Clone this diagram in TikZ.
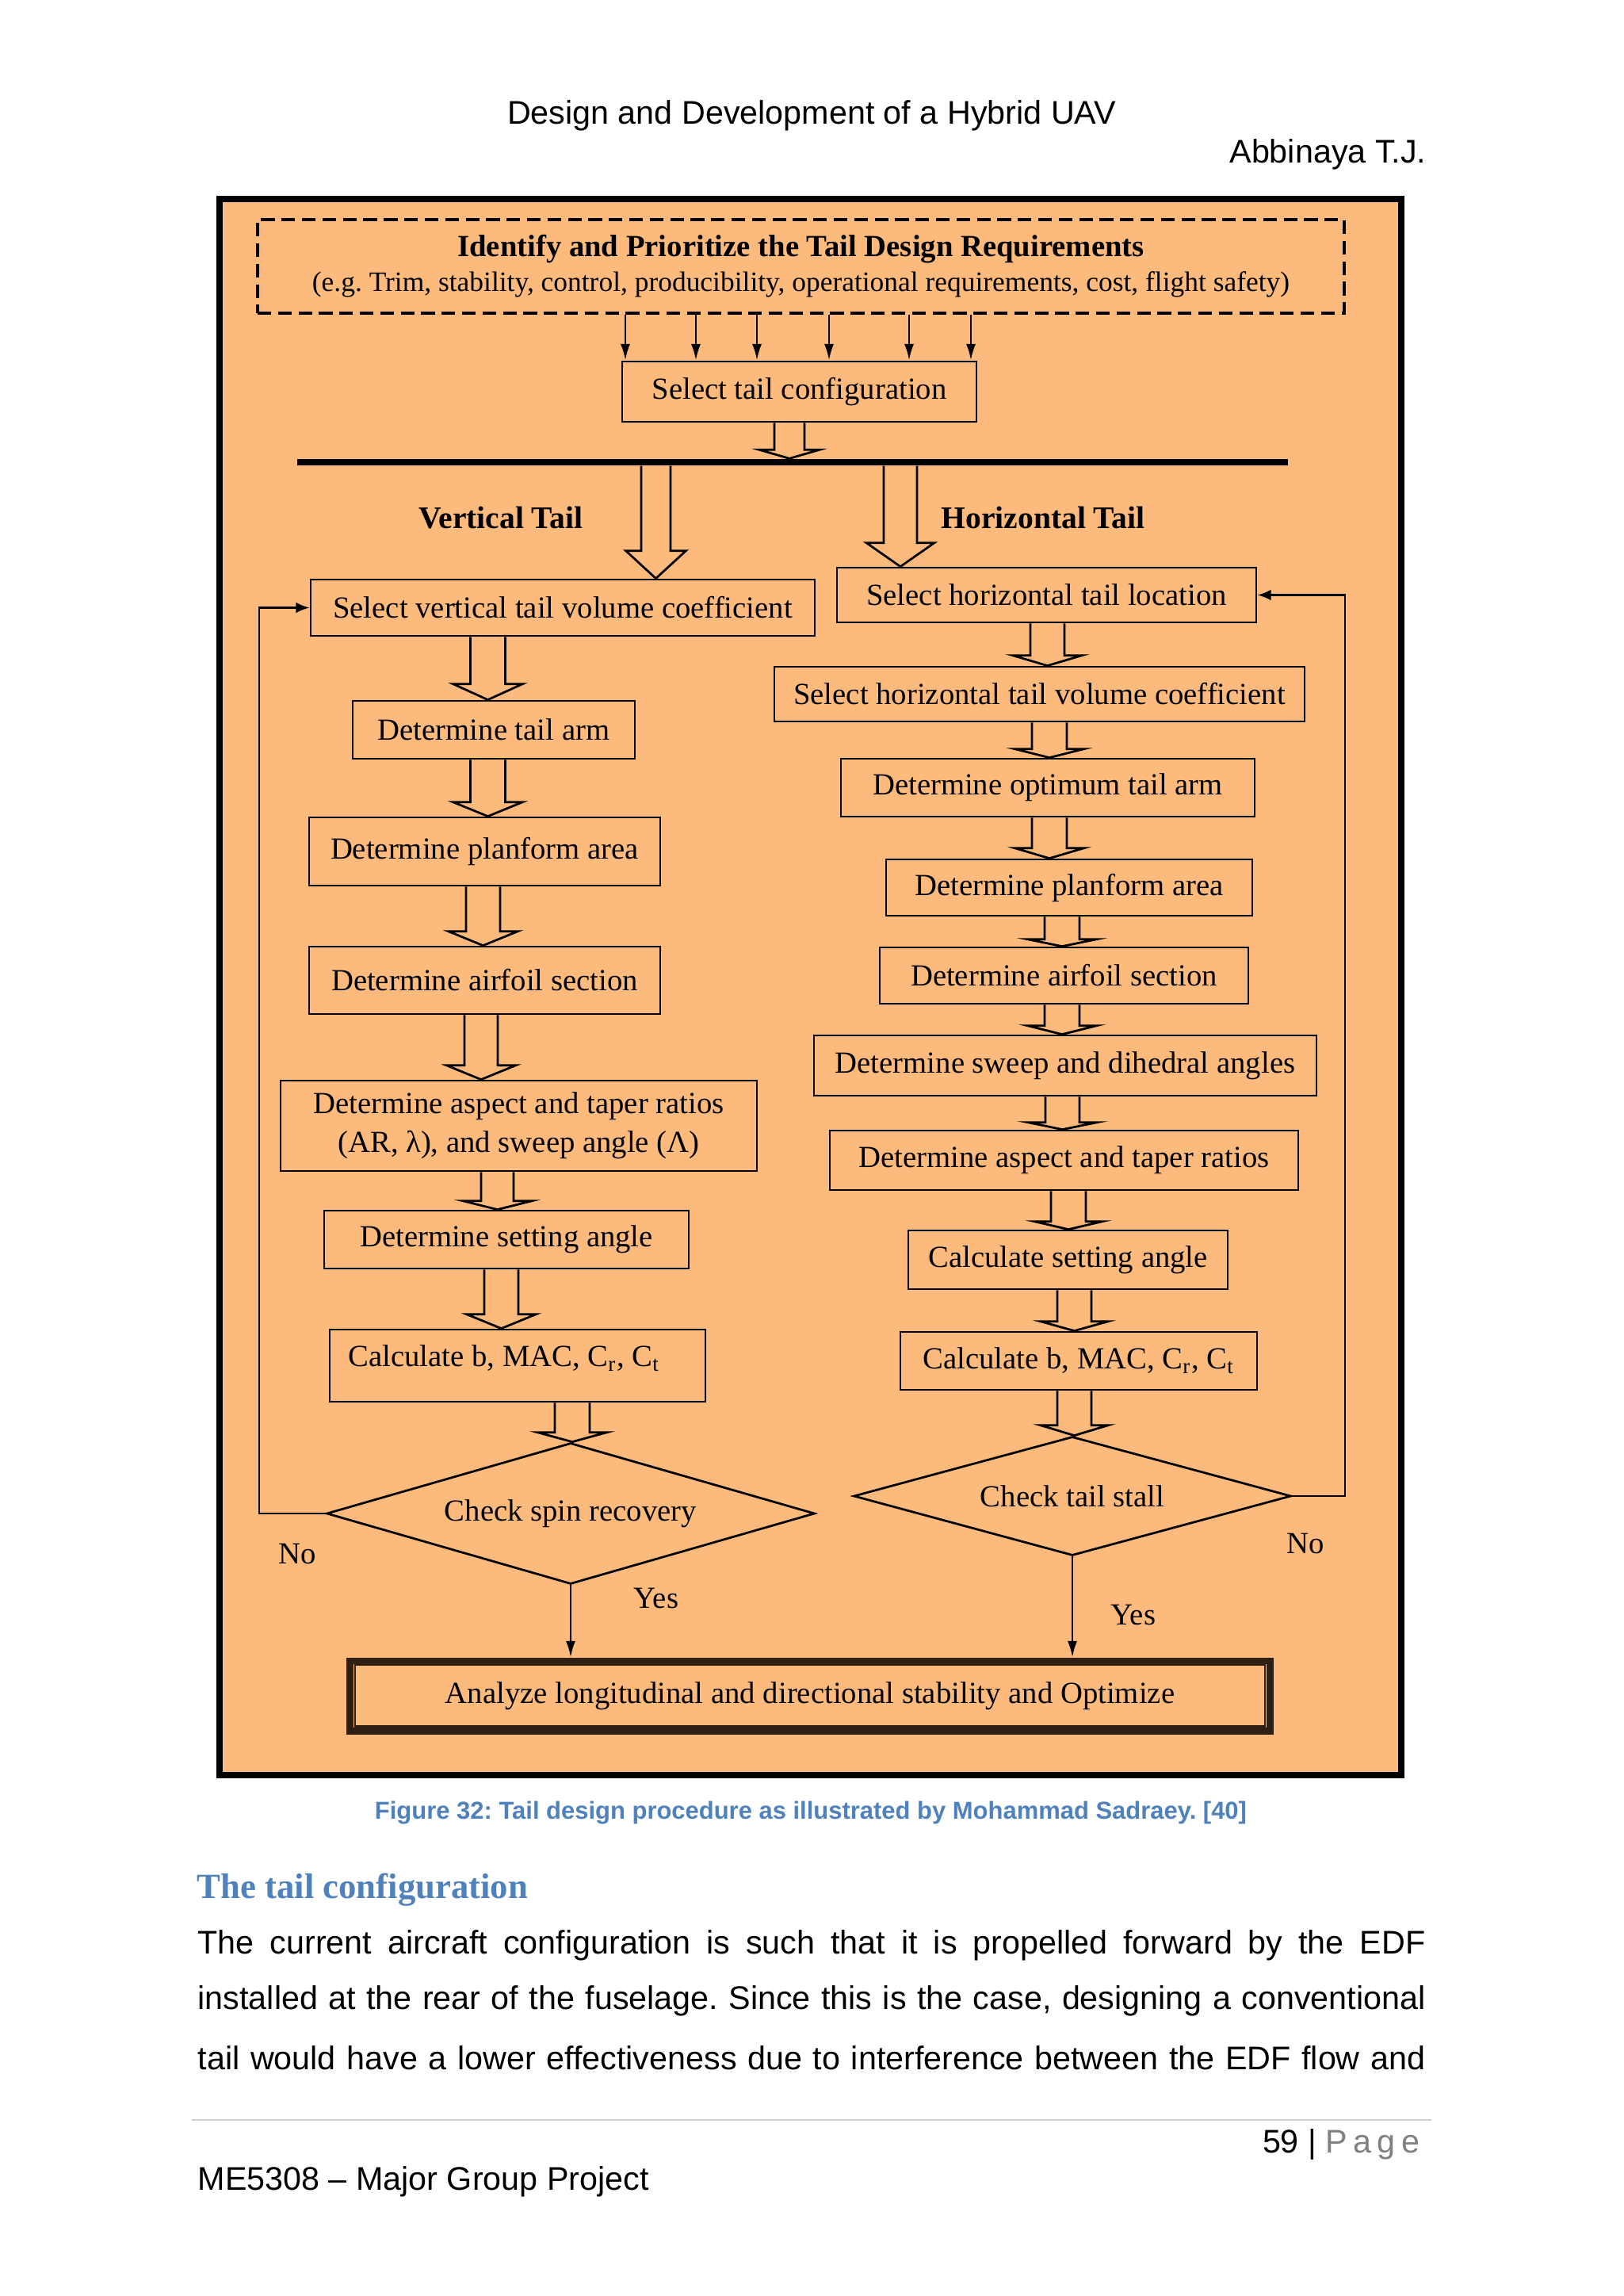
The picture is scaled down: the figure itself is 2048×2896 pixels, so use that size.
\documentclass[tikz,border=0pt]{standalone}
\usepackage{fontspec}
\setmainfont{Liberation Serif}
\newfontfamily\arial{Liberation Sans}
\newfontfamily\arialsp[LetterSpace=18]{Liberation Sans}
\usetikzlibrary{shapes.geometric,arrows.meta,calc}
\definecolor{bgorange}{HTML}{FCBB7C}
\definecolor{capblue}{HTML}{4F81BD}
\definecolor{darkband}{HTML}{2E1F12}
\definecolor{rulegray}{HTML}{D0D0D0}
\definecolor{pagegray}{HTML}{808080}
\frenchspacing
% hollow block arrow: #1 x (px), #2 from node, #3 to node, #4 shaft half width, #5 head half width, #6 head length
\newcommand\barrow[6]{%
  \draw[blk] let \p0=(#1,0), \p1=(#2.south), \p2=(#3.north), \p3=(#4,0), \p4=(#5,0), \p5=(#6,0) in
    (\x0-\x3,\y1) -- (\x0-\x3,\y2+\x5) -- (\x0-\x4,\y2+\x5) -- (\x0,\y2) -- (\x0+\x4,\y2+\x5) -- (\x0+\x3,\y2+\x5) -- (\x0+\x3,\y1);}
\begin{document}
\begin{tikzpicture}[x=0.29066pt,y=-0.29066pt,
  wh/.style 2 args={minimum width={#1*0.29066pt},minimum height={#2*0.29066pt}},
  box/.style={draw,line width=0.8pt,inner sep=0pt,align=center,font=\fontsize{11.25}{13}\selectfont},
  lbl/.style={inner sep=0pt,font=\fontsize{11.25}{13}\selectfont},
  blk/.style={draw,line width=0.8pt},
  reqarrow/.style={line width=0.8pt,-{Latex[length=6pt,width=3.5pt]}},
  fbarrow/.style={line width=0.8pt,-{Latex[length=5pt,width=4pt]}},
  dia/.style={draw,line width=0.8pt,shape=diamond,inner sep=0pt,font=\fontsize{11.25}{13}\selectfont},
  body/.style={inner sep=0pt,anchor=west,font=\arial\fontsize{12}{14}\selectfont}
]
\fill[white] (0,0) rectangle (2048,2896);
\useasboundingbox (0,0) rectangle (2048,2896);

% page header
\node[inner sep=0pt,font=\arial\fontsize{12}{14}\selectfont] (hdr) at (1024,146) {Design and Development of a Hybrid UAV};
\node[inner sep=0pt,anchor=east,font=\arial\fontsize{12}{14}\selectfont] (auth) at (1800,195) {Abbinaya T.J.};

% orange frame
\draw[line width=2.4pt,fill=bgorange] (277,251) rectangle (1768,2239);

% requirements
\node[draw,dash pattern=on 5pt off 2.5pt,line width=0.9pt,wh={1371}{118},inner sep=0pt,align=center,font=\fontsize{11}{12.8}\selectfont] (req) at (1010.5,336)
  {{\fontsize{11.25}{12.8}\selectfont\bfseries Identify and Prioritize the Tail Design Requirements}\\
   {\fontsize{10.3}{12.8}\selectfont (e.g. Trim, stability, control, producibility, operational requirements, cost, flight safety)}};

\node[box,wh={447}{76}] (cfg) at (1008.5,494) {Select tail configuration};
\foreach \xx in {789,878,955,1046,1147,1225}
  \draw[reqarrow] let \p0=(\xx,0), \p1=(req.south), \p2=(cfg.north) in (\x0,\y1) -- (\x0,\y2);

\node[fill=black,inner sep=0pt,wh={1250}{8}] (bar) at (1000,583) {};
\barrow{996}{cfg}{bar}{19}{38}{11}

\node[lbl,font=\fontsize{11.5}{13}\selectfont\bfseries] (vtl) at (632,653) {Vertical Tail};
\node[lbl,font=\fontsize{11.5}{13}\selectfont\bfseries] (htl) at (1316,653) {Horizontal Tail};

% vertical tail column
\node[box,wh={636}{71}] (vt1) at (710,766.5) {Select vertical tail volume coefficient};
\node[box,wh={356}{73}] (vt2) at (623,920.5) {Determine tail arm};
\node[box,wh={443}{86}] (vt3) at (611.5,1074) {Determine planform area};
\node[box,wh={443}{85}] (vt4) at (611.5,1236.5) {Determine airfoil section};
\node[box,wh={601}{114},font=\fontsize{11.25}{14.2}\selectfont] (vt5) at (654.5,1420) {Determine aspect and taper ratios\\(AR, λ), and sweep angle (Λ)};
\node[box,wh={460}{73}] (vt6) at (639,1563.5) {Determine setting angle};
\node[box,wh={474}{91}] (vt7) at (653,1722.5) {};
\node[lbl] (vt7t) at (636,1713) {Calculate b, MAC, C\textsubscript{r}, C\textsubscript{t}};
\node[dia,aspect=3.5,wh={616}{178}] (dia1) at (720,1909) {Check spin recovery};

% horizontal tail column
\node[box,wh={529}{69}] (ht1) at (1320.5,750.5) {Select horizontal tail location};
\node[box,wh={669}{69}] (ht2) at (1311.5,875.5) {Select horizontal tail volume coefficient};
\node[box,wh={522}{73}] (ht3) at (1322,993.5) {Determine optimum tail arm};
\node[box,wh={462}{71}] (ht4) at (1349,1119.5) {Determine planform area};
\node[box,wh={465}{71}] (ht5) at (1342.5,1230.5) {Determine airfoil section};
\node[box,wh={634}{76}] (ht6) at (1344,1344) {Determine sweep and dihedral angles};
\node[box,wh={591}{75}] (ht7) at (1342.5,1463.5) {Determine aspect and taper ratios};
\node[box,wh={403}{74}] (ht8) at (1347.5,1589) {Calculate setting angle};
\node[box,wh={450}{73}] (ht9) at (1361,1716.5) {Calculate b, MAC, C\textsubscript{r}, C\textsubscript{t}};
\node[dia,aspect=3.7,wh={552}{150}] (dia2) at (1353,1887) {Check tail stall};

% final box
\node[draw=darkband,line width=2.6pt,wh={1161}{88},inner sep=0pt,font=\fontsize{11.25}{13}\selectfont] (final) at (1022,2139) {Analyze longitudinal and directional stability and Optimize};
\draw[darkband,line width=0.7pt] ($(final.north west)+(11,9)$) rectangle ($(final.south east)+(-11,-10)$);

% block arrows
\barrow{827.5}{bar}{vt1}{18.5}{38}{35}
\barrow{1136}{bar}{ht1}{21}{43}{30}
\barrow{615.5}{vt1}{vt2}{22}{44}{20}
\barrow{615.5}{vt2}{vt3}{22}{44}{18}
\barrow{609.5}{vt3}{vt4}{21.5}{44}{18}
\barrow{607}{vt4}{vt5}{21}{44}{18}
\barrow{627.5}{vt5}{vt6}{20.5}{44}{11}
\barrow{632.5}{vt6}{vt7}{21.5}{44}{18}
\barrow{722}{vt7}{dia1}{22}{44}{12}
\barrow{1321.5}{ht1}{ht2}{21.5}{44}{13}
\barrow{1324}{ht2}{ht3}{22}{44}{11}
\barrow{1324}{ht3}{ht4}{22}{44}{13}
\barrow{1340}{ht4}{ht5}{22}{44}{9}
\barrow{1340}{ht5}{ht6}{22}{44}{11}
\barrow{1340.5}{ht6}{ht7}{21.5}{44}{9}
\barrow{1348}{ht7}{ht8}{22}{43}{10}
\barrow{1355.5}{ht8}{ht9}{21.5}{43}{12}
\barrow{1355.5}{ht9}{dia2}{21.5}{43}{13}

% feedback loops
\coordinate (fbL) at (327,1000);
\coordinate (fbR) at (1697,1000);
\draw[fbarrow] (dia1.west) -- (dia1.west -| fbL) |- (vt1.west);
\draw[fbarrow] (dia2.east) -- (dia2.east -| fbR) |- (ht1.east);
\draw[reqarrow] (dia1.south) -- (dia1.south |- final.north);
\draw[reqarrow] (dia2.south) -- (dia2.south |- final.north);

\node[lbl] (no1) at (375,1960) {No};
\node[lbl] (no2) at (1647,1947) {No};
\node[lbl] (yes1) at (828,2016) {Yes};
\node[lbl] (yes2) at (1430,2037) {Yes};

% text below the figure
\node[inner sep=0pt,font=\arial\bfseries\fontsize{9}{11}\selectfont,text=capblue] (cap) at (1023,2287) {Figure 32: Tail design procedure as illustrated by Mohammad Sadraey. [40]};
\node[inner sep=0pt,anchor=west,font=\bfseries\fontsize{13}{15}\selectfont,text=capblue] (head) at (248,2384) {The tail configuration};
\node[body] (l1) at (249,2454) {\makebox[450.2pt][s]{The current aircraft configuration is such that it is propelled forward by the EDF}};
\node[body] (l2) at (249,2524) {\makebox[450.2pt][s]{installed at the rear of the fuselage. Since this is the case, designing a conventional}};
\node[body] (l3) at (249,2596) {\makebox[450.2pt][s]{tail would have a lower effectiveness due to interference between the EDF flow and}};
\draw[rulegray,line width=0.6pt] (242,2674) -- (1806,2674);
\node[inner sep=0pt,anchor=east,font=\arial\fontsize{12}{14}\selectfont] (pg) at (1792,2705) {59 | {\arialsp\color{pagegray}Page}};
\node[body] (foot) at (249,2752) {ME5308 – Major Group Project};
\end{tikzpicture}
\end{document}
